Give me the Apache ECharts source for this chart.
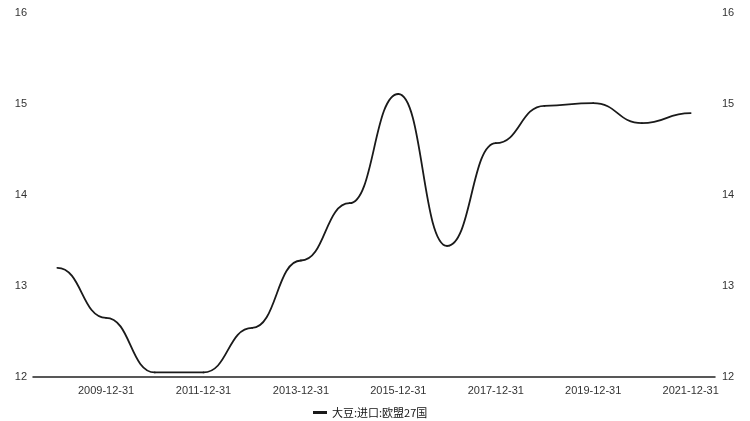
<!DOCTYPE html>
<html>
<head>
<meta charset="utf-8">
<script src="https://cdn.jsdelivr.net/npm/echarts@6/dist/echarts.min.js"></script>
<style>html,body{margin:0;padding:0;background:#fff;}#c{width:750px;height:421px;}</style>
</head>
<body>
<div id="c"></div>
<script>
var categories = ['2008-12-31','2009-12-31','2010-12-31','2011-12-31','2012-12-31','2013-12-31','2014-12-31','2015-12-31','2016-12-31','2017-12-31','2018-12-31','2019-12-31','2020-12-31','2021-12-31'];
var seriesName = '大豆:进口:欧盟27国';
var values = [13.20, 12.65, 12.05, 12.05, 12.54, 13.28, 13.91, 15.11, 13.44, 14.57, 14.98, 15.01, 14.79, 14.90];
var yTicks = [12, 13, 14, 15, 16];

var lineColor = '#1a1a1a';
var chart = echarts.init(document.getElementById('c'));
var axisFont = {color:'#333', fontSize:11, fontFamily:'Liberation Sans, Arial, sans-serif'};
chart.setOption({
  animation:false,
  grid:{left:33, right:35, top:13, bottom:44},
  legend:{top:402, left:308, itemWidth:14, itemHeight:3, icon:'rect', itemGap:4,
    textStyle:{color:'#111', fontSize:11, fontFamily:'Noto Sans CJK SC, sans-serif'},
    data:[{name:seriesName, icon:'rect', itemStyle:{color:lineColor}}]},
  xAxis:{type:'category', data:categories, boundaryGap:true,
    axisLine:{lineStyle:{color:'#222', width:1.5}},
    axisTick:{show:false},
    axisLabel:Object.assign({interval:function(i){return i%2===1;}, margin:8}, axisFont)},
  yAxis:[
    {type:'value', min:yTicks[0], max:yTicks[yTicks.length-1], interval:1, position:'left',
      axisLine:{show:false}, axisTick:{show:false}, splitLine:{show:false},
      axisLabel:Object.assign({margin:6}, axisFont)},
    {type:'value', min:yTicks[0], max:yTicks[yTicks.length-1], interval:1, position:'right',
      axisLine:{show:false}, axisTick:{show:false}, splitLine:{show:false},
      axisLabel:Object.assign({margin:7}, axisFont)}
  ],
  series:[{name:seriesName, type:'custom', itemStyle:{color:lineColor},
    data:values.map(function(v,i){return [i,v];}),
    encode:{x:0, y:1},
    renderItem:function(params, api){
      var i = params.dataIndex;
      if (i === 0) return null;
      var p1 = api.coord([i-1, values[i-1]]);
      var p2 = api.coord([i, values[i]]);
      var mx = (p1[0] + p2[0]) / 2;
      return {type:'bezierCurve',
        shape:{x1:p1[0], y1:p1[1], x2:p2[0], y2:p2[1], cpx1:mx, cpy1:p1[1], cpx2:mx, cpy2:p2[1]},
        style:{stroke:lineColor, lineWidth:1.8, fill:null, lineCap:'round'}};
    }}]
});
</script>
</body>
</html>
